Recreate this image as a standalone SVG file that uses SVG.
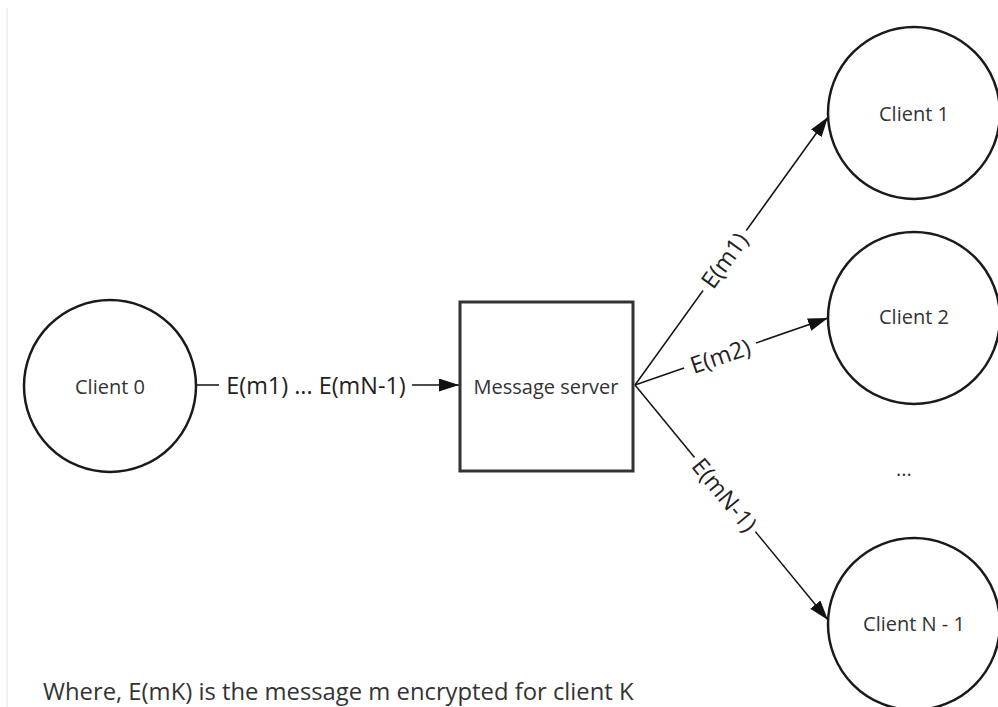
<svg xmlns="http://www.w3.org/2000/svg" width="998" height="707" viewBox="0 0 998 707">
  <style>
    .node-shape { fill: #ffffff; stroke: #1a1a1a; stroke-width: 2.5; }
    .box-shape { fill: #ffffff; stroke: #333333; stroke-width: 3; }
    .node-text { font-family: "Open Sans", "Liberation Sans", sans-serif; font-size: 20px; fill: #333333; text-anchor: middle; dominant-baseline: central; }
    .edge { stroke: #111111; stroke-width: 1.5; fill: none; marker-end: url(#arrow); }
    .edge-text { font-family: "Open Sans", "Liberation Sans", sans-serif; font-size: 23.4px; fill: #222222; text-anchor: middle; dominant-baseline: central; }
    .label-bg { fill: #ffffff; }
    .note { font-family: "Open Sans", "Liberation Sans", sans-serif; font-size: 23.8px; fill: #333333; }
  </style>
  <defs>
    <marker id="arrow" viewBox="0 0 20 13" refX="20" refY="6.5" markerWidth="20" markerHeight="13" markerUnits="userSpaceOnUse" orient="auto">
      <path d="M0,0 L20,6.5 L0,13 z" fill="#111111"/>
    </marker>
  </defs>

  <rect x="0" y="0" width="998" height="707" fill="#ffffff"/>
  <!-- page margin rule -->
  <line x1="7" y1="8" x2="7" y2="707" stroke="#e2e2e2" stroke-width="1"/>

  <g id="connectors">
    <!-- Client 0 to server -->
    <line class="edge" x1="197" y1="385" x2="459" y2="385"/>
    <rect class="label-bg" x="219" y="371" width="193" height="28"/>
    <text class="edge-text" x="316" y="385">E(m1) ... E(mN-1)</text>

    <!-- server to Client 1 -->
    <line class="edge" x1="635" y1="385" x2="828" y2="117"/>
    <g transform="translate(724,260) rotate(-54.2)">
      <rect class="label-bg" x="-37" y="-14" width="74" height="28"/>
      <text class="edge-text" x="0" y="0">E(m1)</text>
    </g>

    <!-- server to Client 2 -->
    <line class="edge" x1="635" y1="385" x2="828" y2="318"/>
    <g transform="translate(720,355.5) rotate(-19.1)">
      <rect class="label-bg" x="-38" y="-14" width="76" height="28"/>
      <text class="edge-text" x="0" y="0">E(m2)</text>
    </g>

    <!-- server to Client N-1 -->
    <line class="edge" x1="635" y1="385" x2="828" y2="620"/>
    <g transform="translate(725,494.5) rotate(50.6)">
      <rect class="label-bg" x="-48" y="-14" width="96" height="28"/>
      <text class="edge-text" x="0" y="0">E(mN-1)</text>
    </g>
  </g>

  <g id="client-0">
    <circle class="node-shape" cx="110" cy="386" r="86"/>
    <text class="node-text" x="110" y="386">Client 0</text>
  </g>

  <g id="message-server">
    <rect class="box-shape" x="460" y="302" width="173" height="169"/>
    <text class="node-text" x="546" y="386">Message server</text>
  </g>

  <g id="client-1">
    <circle class="node-shape" cx="914" cy="113" r="86"/>
    <text class="node-text" x="914" y="113">Client 1</text>
  </g>

  <g id="client-2">
    <circle class="node-shape" cx="914" cy="318" r="86"/>
    <text class="node-text" x="914" y="316">Client 2</text>
  </g>

  <g id="ellipsis">
    <text class="node-text" x="904" y="468">...</text>
  </g>

  <g id="client-n-1">
    <circle class="node-shape" cx="914" cy="624" r="86"/>
    <text class="node-text" x="914" y="623">Client N - 1</text>
  </g>

  <text class="note" x="43" y="700">Where, E(mK) is the message m encrypted for client K</text>
</svg>
